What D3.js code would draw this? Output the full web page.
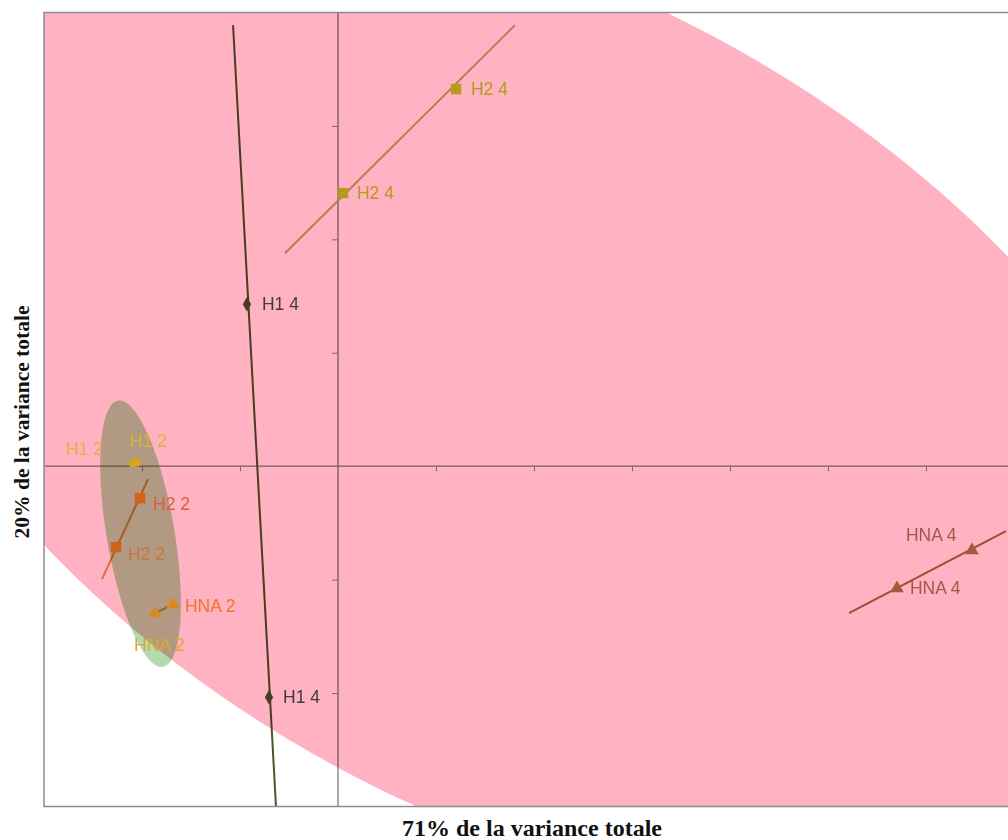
<!DOCTYPE html>
<html><head><meta charset="utf-8">
<script src="https://cdn.jsdelivr.net/npm/d3@7"></script>
<style>body{margin:0;background:#fff;} svg{display:block;}</style>
</head><body><svg id="c" width="1008" height="840"></svg>
<script>
// ---- data ----
const xDomain = [-3, 7];
const yDomain = [-3, 4];
const xTicks = [-2, -1, 1, 2, 3, 4, 5, 6];
const yTicks = [-2, -1, 1, 2, 3];
const xTitle = "71% de la variance totale";
const yTitle = "20% de la variance totale";

const ellipseNames = ["Ensemble", "Groupe 2"];
const ellipseCx = [1.945, -2.015];
const ellipseCy = [0.552, -0.595];
const ellipseRx = [7.146, 1.196];
const ellipseRy = [3.723, 0.345];
const ellipseAngle = [-22.7, -78.7];

const lineNames = ["H1 4", "H2 4", "H2 2", "HNA 2", "HNA 4"];
const lineX1 = [-1.071, -0.541, -2.408, -1.867, 5.214];
const lineY1 = [3.889, 1.877, -0.996, -1.296, -1.296];
const lineX2 = [-0.633, 1.806, -1.939, -1.684, 6.816];
const lineY2 = [-3.0, 3.888, -0.115, -1.217, -0.573];

const pointLabels = ["H1 4", "H1 4", "H2 4", "H2 4", "H1 2", "H1 2", "H2 2", "H2 2", "HNA 2", "HNA 2", "HNA 4", "HNA 4"];
const pointX = [-0.929, -0.704, 1.204, 0.051, -2.092, -2.051, -2.020, -2.265, -1.684, -1.867, 6.469, 5.704];
const pointY = [1.428, -2.037, 3.325, 2.408, 0.026, 0.035, -0.282, -0.714, -1.217, -1.296, -0.741, -1.076];
const pointShape = ["diamond", "diamond", "square", "square", "circle", "circle", "square", "square", "triangle", "triangle", "triangle", "triangle"];

// ---- styles ----
const ellipseFill = ["#ffb2c1", "#b2dcae"];
const lineColor = ["#4b5528", "#b9b371", "#e69e42", "#c8ac35", "#a56b42"];
const markerColor = ["#4a3a24", "#4a3a24", "#b39b1f", "#b39b1f", "#d9a51e", "#d9a51e", "#d4621c", "#d06218", "#d98a22", "#d98a22", "#a9573a", "#a9573a"];
const labelColor = ["#3c3c3c", "#3c3c3c", "#b39b1f", "#b39b1f", "#f0a848", "#d9b43a", "#dd5f35", "#c8763e", "#f0762d", "#e2a534", "#a6574a", "#a6574a"];
const labelDx = [15, 14, 15, 14, -67, -7, 13, 12, 12, -21, -66, 13];
const labelDy = [0, 0, 0, 0, -14, -21, 6, 7, 2, 32, -15, 0];

const svg = d3.select("#c");
const L = 44, T = 12.5, R = 1024, B = 806.5;
const x = d3.scaleLinear().domain(xDomain).range([L, R]);
const y = d3.scaleLinear().domain(yDomain).range([B, T]);

svg.append("rect").attr("width", 1008).attr("height", 840).attr("fill", "#fff");
svg.append("defs").append("clipPath").attr("id", "clip")
  .append("rect").attr("x", L).attr("y", T).attr("width", R - L).attr("height", B - T);

const plot = svg.append("g").attr("clip-path", "url(#clip)");

// axes lines through origin
plot.append("line").attr("x1", L).attr("x2", R).attr("y1", y(0)).attr("y2", y(0))
  .attr("stroke", "#808080").attr("stroke-width", 1.3);
plot.append("line").attr("x1", x(0)).attr("x2", x(0)).attr("y1", T).attr("y2", B)
  .attr("stroke", "#707070").attr("stroke-width", 1.2);
const xa = plot.append("g").attr("transform", `translate(0,${y(0)})`)
  .call(d3.axisBottom(x).tickValues(xTicks).tickSize(5).tickFormat(""));
xa.select(".domain").remove();
xa.selectAll("line").attr("stroke", "#8a8a8a");
const ya = plot.append("g").attr("transform", `translate(${x(0)},0)`)
  .call(d3.axisLeft(y).tickValues(yTicks).tickSize(6).tickFormat(""));
ya.select(".domain").remove();
ya.selectAll("line").attr("stroke", "#8a8a8a");

// lines
lineNames.forEach((n, i) => {
  plot.append("line")
    .attr("x1", x(lineX1[i])).attr("y1", y(lineY1[i]))
    .attr("x2", x(lineX2[i])).attr("y2", y(lineY2[i]))
    .attr("stroke", lineColor[i]).attr("stroke-width", 2);
});

// ellipses (multiplied over)
const ellLine = d3.line().curve(d3.curveLinearClosed);
ellipseNames.forEach((n, i) => {
  const a = ellipseAngle[i] * Math.PI / 180;
  const pts = d3.range(0, 360, 1).map(d => {
    const t = d * Math.PI / 180;
    const ex = ellipseRx[i] * Math.cos(t), ey = ellipseRy[i] * Math.sin(t);
    return [x(ellipseCx[i] + ex * Math.cos(a) - ey * Math.sin(a)),
            y(ellipseCy[i] + ex * Math.sin(a) + ey * Math.cos(a))];
  });
  plot.append("path").attr("d", ellLine(pts)).attr("fill", ellipseFill[i])
    .style("mix-blend-mode", "multiply");
});

// markers
const shapeMap = { diamond: d3.symbolDiamond, square: d3.symbolSquare, circle: d3.symbolCircle, triangle: d3.symbolTriangle };
const sizeMap = { diamond: 60, square: 110, circle: 55, triangle: 80 };
pointLabels.forEach((lab, i) => {
  plot.append("path")
    .attr("d", d3.symbol().type(shapeMap[pointShape[i]]).size(sizeMap[pointShape[i]])())
    .attr("transform", `translate(${x(pointX[i])},${y(pointY[i])})`)
    .attr("fill", markerColor[i]);
});
pointLabels.forEach((lab, i) => {
  plot.append("text")
    .attr("x", x(pointX[i]) + labelDx[i]).attr("y", y(pointY[i]) + labelDy[i])
    .attr("dominant-baseline", "central")
    .attr("font-family", "Liberation Sans, Arial, sans-serif").attr("font-size", 17.5)
    .attr("fill", labelColor[i]).text(lab);
});

// frame
svg.append("rect").attr("x", L).attr("y", T).attr("width", R - L).attr("height", B - T)
  .attr("fill", "none").attr("stroke", "#8c8c8c").attr("stroke-width", 1.5);

// titles
svg.append("text").attr("x", 532).attr("y", 836).attr("text-anchor", "middle")
  .attr("font-family", "Liberation Serif, Times New Roman, serif").attr("font-weight", "bold")
  .attr("font-size", 24).attr("fill", "#111").text(xTitle);
svg.append("text").attr("transform", "translate(29,422) rotate(-90)").attr("text-anchor", "middle")
  .attr("font-family", "Liberation Serif, Times New Roman, serif").attr("font-weight", "bold")
  .attr("font-size", 21.5).attr("fill", "#111").text(yTitle);
</script></body></html>
